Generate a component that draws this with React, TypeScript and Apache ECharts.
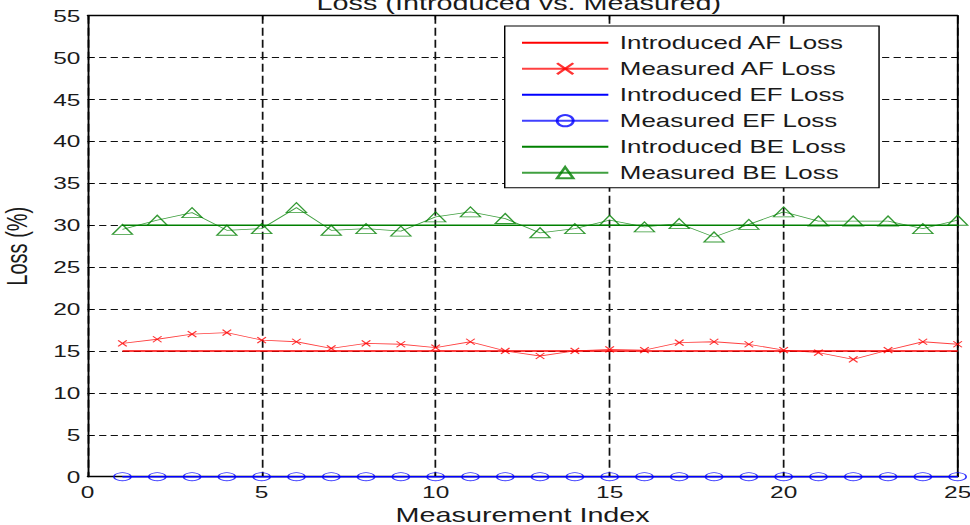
import React, { useEffect, useRef } from "react";
import * as echarts from "echarts";

// ---- data ----
const measurementIndex = [1, 2, 3, 4, 5, 6, 7, 8, 9, 10, 11, 12, 13, 14, 15, 16, 17, 18, 19, 20, 21, 22, 23, 24, 25];

const introducedAF = [15, 15, 15, 15, 15, 15, 15, 15, 15, 15, 15, 15, 15, 15, 15, 15, 15, 15, 15, 15, 15, 15, 15, 15, 15];
const measuredAF = [15.9, 16.4, 17.0, 17.2, 16.3, 16.1, 15.3, 15.9, 15.8, 15.4, 16.1, 15.0, 14.4, 15.0, 15.2, 15.1, 16.0, 16.1, 15.8, 15.1, 14.8, 14.0, 15.1, 16.1, 15.8];

const introducedEF = [0, 0, 0, 0, 0, 0, 0, 0, 0, 0, 0, 0, 0, 0, 0, 0, 0, 0, 0, 0, 0, 0, 0, 0, 0];
const measuredEF = [0, 0, 0, 0, 0, 0, 0, 0, 0, 0, 0, 0, 0, 0, 0, 0, 0, 0, 0, 0, 0, 0, 0, 0, 0];

const introducedBE = [30, 30, 30, 30, 30, 30, 30, 30, 30, 30, 30, 30, 30, 30, 30, 30, 30, 30, 30, 30, 30, 30, 30, 30, 30];
const measuredBE = [29.5, 30.6, 31.5, 29.4, 29.6, 32.1, 29.4, 29.6, 29.3, 31.0, 31.6, 30.8, 29.1, 29.6, 30.6, 29.8, 30.2, 28.6, 30.1, 31.6, 30.5, 30.5, 30.5, 29.6, 30.6];

const seriesNames = [
  "Introduced AF Loss",
  "Measured AF Loss",
  "Introduced EF Loss",
  "Measured EF Loss",
  "Introduced BE Loss",
  "Measured BE Loss",
];

const titleText = "Loss (Introduced vs. Measured)";
const xAxisName = "Measurement Index";
const yAxisName = "Loss (%)";

// ---- layout (the reference picture is horizontally stretched) ----
const STRETCH = 1.4392;
const W = 674;
const H = 525;

const RED = "#ff0000";
const BLUE = "#0000ff";
const GREEN = "#008000";
const INK = "#1a1a1a";
const FONT = "'Liberation Sans', Arial, Helvetica, sans-serif";

export default function App() {
  const ref = useRef<HTMLDivElement>(null);

  useEffect(() => {
    if (!ref.current) return;
    const chart = echarts.init(ref.current, null, { renderer: "svg" });
    const pairs = (ys: number[]) => measurementIndex.map((x, i) => [x, ys[i]]);

    const axisLine = { show: true, onZero: false, lineStyle: { color: "#000", width: 1.3 } };
    const axisTick = { show: true, inside: true, length: 4, lineStyle: { color: "#000", width: 1 } };

    const introLine = (name: string, color: string, ys: number[]) => ({
      name,
      type: "line",
      data: pairs(ys),
      symbol: "circle",
      showSymbol: false,
      clip: false,
      lineStyle: { color, width: 1.5 },
      itemStyle: { color: "transparent", borderWidth: 0 },
      z: 3,
    });

    const measLine = (name: string, color: string, ys: number[], symbol: string, size: number[]) => ({
      name,
      type: "line",
      data: pairs(ys),
      symbol,
      symbolSize: size,
      showSymbol: true,
      clip: false,
      lineStyle: { color, width: 0.8, opacity: 0.75 },
      itemStyle: { color: "transparent", borderColor: color, borderWidth: 1, opacity: 0.8 },
      z: 4,
    });

    chart.setOption({
      animation: false,
      backgroundColor: "#ffffff",
      grid: {
        left: 60.9,
        right: 8.6,
        top: 15.7,
        bottom: 48.3,
        containLabel: false,
        outerBoundsMode: "none",
      },
      xAxis: [
        {
          type: "value",
          position: "bottom",
          min: 0,
          max: 25,
          interval: 5,
          name: xAxisName,
          nameLocation: "middle",
          nameGap: 23,
          nameTextStyle: { fontSize: 20, color: INK, fontFamily: FONT },
          axisLine,
          axisTick,
          axisLabel: { fontSize: 17, color: INK, fontFamily: FONT, margin: 7 },
          splitLine: { show: true, lineStyle: { color: "#111", type: [8, 4], width: 1.2 } },
        },
        {
          type: "value",
          position: "top",
          min: 0,
          max: 25,
          interval: 5,
          axisLine,
          axisTick,
          axisLabel: { show: false },
          splitLine: { show: false },
        },
      ],
      yAxis: [
        {
          type: "value",
          position: "left",
          min: 0,
          max: 55,
          interval: 5,
          name: yAxisName,
          nameLocation: "middle",
          nameGap: 39,
          nameRotate: 90,
          nameTextStyle: { fontSize: 20, color: INK, fontFamily: FONT },
          axisLine,
          axisTick,
          axisLabel: { fontSize: 17, color: INK, fontFamily: FONT, margin: 5 },
          splitLine: { show: true, lineStyle: { color: "#111", type: [5, 3], width: 1.2 } },
        },
        {
          type: "value",
          position: "right",
          min: 0,
          max: 55,
          interval: 5,
          axisLine,
          axisTick,
          axisLabel: { show: false },
          splitLine: { show: false },
        },
      ],
      legend: {
        orient: "vertical",
        left: 350.7,
        top: 26,
        padding: [7.7, 23, 6, 11],
        itemWidth: 60,
        itemHeight: 14,
        itemGap: 8,
        backgroundColor: "#ffffff",
        borderColor: "#000",
        borderWidth: 1,
        borderRadius: 0,
        selectedMode: false,
        textStyle: { fontSize: 18, color: INK, fontFamily: FONT, lineHeight: 18, padding: [0, 0, 0, 3] },
        data: seriesNames,
      },
      graphic: [
        {
          type: "text",
          x: 360.5,
          y: 13,
          silent: true,
          style: {
            text: titleText,
            fontSize: 20,
            fontFamily: FONT,
            fill: INK,
            align: "center",
            verticalAlign: "bottom",
          },
        },
      ],
      series: [
        introLine(seriesNames[0], RED, introducedAF),
        measLine(seriesNames[1], RED, measuredAF, "path://M0,0L10,10M0,10L10,0", [6, 6]),
        introLine(seriesNames[2], BLUE, introducedEF),
        measLine(seriesNames[3], BLUE, measuredEF, "circle", [11.8, 8]),
        introLine(seriesNames[4], GREEN, introducedBE),
        measLine(seriesNames[5], GREEN, measuredBE, "triangle", [14, 10]),
      ],
    });

    return () => chart.dispose();
  }, []);

  return (
    <div
      ref={ref}
      style={{
        position: "fixed",
        left: 0,
        top: 0,
        width: W,
        height: H,
        transform: `scaleX(${STRETCH})`,
        transformOrigin: "0 0",
      }}
    />
  );
}
